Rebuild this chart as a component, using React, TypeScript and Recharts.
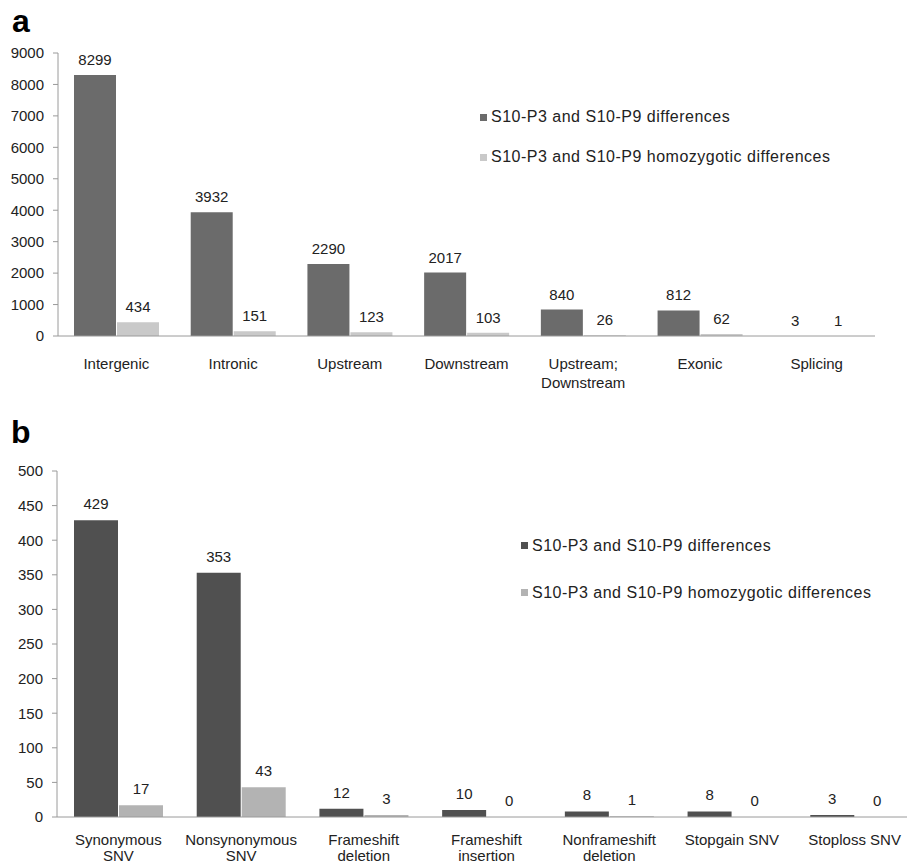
import React from 'react'
import { Bar, BarChart, LabelList, Legend, XAxis, YAxis } from 'recharts'

// panel a: genomic region of the differences
const regionCats = ['Intergenic', 'Intronic', 'Upstream', 'Downstream', 'Upstream;\nDownstream', 'Exonic', 'Splicing']
const regionAll = [8299, 3932, 2290, 2017, 840, 812, 3]
const regionHomo = [434, 151, 123, 103, 26, 62, 1]
const regionTicks = [0, 1000, 2000, 3000, 4000, 5000, 6000, 7000, 8000, 9000]

// panel b: exonic function
const exonicCats = [
  'Synonymous\nSNV',
  'Nonsynonymous\nSNV',
  'Frameshift\ndeletion',
  'Frameshift\ninsertion',
  'Nonframeshift\ndeletion',
  'Stopgain SNV',
  'Stoploss SNV',
]
const exonicAll = [429, 353, 12, 10, 8, 8, 3]
const exonicHomo = [17, 43, 3, 0, 1, 0, 0]
const exonicTicks = [0, 50, 100, 150, 200, 250, 300, 350, 400, 450, 500]

const SERIES_ALL = 'S10-P3 and S10-P9 differences'
const SERIES_HOMO = 'S10-P3 and S10-P9 homozygotic differences'

const FONT = '"Liberation Sans", Arial, sans-serif'
const AXIS = '#9a9a9a'
const TEXT = '#222'

const regionData = regionCats.map((c, i) => ({ cat: c, all: regionAll[i], homo: regionHomo[i] }))
const exonicData = exonicCats.map((c, i) => ({ cat: c, all: exonicAll[i], homo: exonicHomo[i] }))

function multiTick(firstDy: number, lineH: number) {
  return (props: any) => {
    const { x, y, payload } = props
    const lines = String(payload.value).split('\n')
    return (
      <text x={x} y={y} textAnchor="middle" fontSize={15} fill={TEXT} fontFamily={FONT}>
        {lines.map((l, i) => (
          <tspan key={i} x={x} dy={i === 0 ? firstDy : lineH}>
            {l}
          </tspan>
        ))}
      </text>
    )
  }
}

function legendContent(rowH: number) {
  return (props: any) => (
    <div style={{ fontFamily: FONT, fontSize: 16, letterSpacing: 0.5, color: TEXT }}>
      {props.payload.map((e: any) => (
        <div key={e.value} style={{ display: 'flex', alignItems: 'center', height: rowH }}>
          <span style={{ width: 7, height: 7, background: e.color, marginRight: 4 }} />
          <span>{e.value}</span>
        </div>
      ))}
    </div>
  )
}

export default function App() {
  return (
    <div style={{ position: 'absolute', left: 0, top: 0, width: 907, height: 866, overflow: 'hidden', background: '#fff' }}>
      <div style={{ position: 'absolute', left: 0, top: 0 }}>
        <BarChart
          width={907}
          height={400}
          data={regionData}
          margin={{ top: 53, right: 32, left: 0, bottom: 14 }}
          barSize={42}
          barGap={1}
        >
          <XAxis
            dataKey="cat"
            interval={0}
            height={50}
            tickLine={false}
            axisLine={{ stroke: AXIS }}
            tick={multiTick(25, 19)}
          />
          <YAxis
            width={58}
            domain={[0, 9000]}
            ticks={regionTicks}
            tickSize={5}
            tickMargin={9}
            axisLine={{ stroke: AXIS }}
            tickLine={{ stroke: AXIS }}
            tick={{ fontSize: 15, fill: TEXT, fontFamily: FONT }}
          />
          <Legend
            layout="vertical"
            align="center"
            verticalAlign="middle"
            content={legendContent(40)}
            wrapperStyle={{ position: 'absolute', left: 480, top: 97, width: 420 }}
          />
          <Bar dataKey="all" name={SERIES_ALL} fill="#6b6b6b" isAnimationActive={false}>
            <LabelList dataKey="all" position="top" offset={10} fontSize={15} fill={TEXT} fontFamily={FONT} />
          </Bar>
          <Bar dataKey="homo" name={SERIES_HOMO} fill="#c9c9c9" isAnimationActive={false}>
            <LabelList dataKey="homo" position="top" offset={10} fontSize={15} fill={TEXT} fontFamily={FONT} />
          </Bar>
        </BarChart>
      </div>

      <div style={{ position: 'absolute', left: 0, top: 400 }}>
        <BarChart
          width={930}
          height={466}
          data={exonicData}
          margin={{ top: 71, right: 14, left: 0, bottom: 4 }}
          barSize={44}
          barGap={1}
        >
          <XAxis
            dataKey="cat"
            interval={0}
            height={45}
            tickLine={false}
            axisLine={{ stroke: AXIS }}
            tick={multiTick(20, 16)}
          />
          <YAxis
            width={57}
            domain={[0, 500]}
            ticks={exonicTicks}
            tickSize={5}
            tickMargin={9}
            axisLine={{ stroke: AXIS }}
            tickLine={{ stroke: AXIS }}
            tick={{ fontSize: 15, fill: TEXT, fontFamily: FONT }}
          />
          <Legend
            layout="vertical"
            align="center"
            verticalAlign="middle"
            content={legendContent(47)}
            wrapperStyle={{ position: 'absolute', left: 521, top: 122, width: 400 }}
          />
          <Bar dataKey="all" name={SERIES_ALL} fill="#505050" isAnimationActive={false}>
            <LabelList dataKey="all" position="top" offset={11} fontSize={15} fill={TEXT} fontFamily={FONT} />
          </Bar>
          <Bar dataKey="homo" name={SERIES_HOMO} fill="#b3b3b3" minPointSize={0.1} isAnimationActive={false}>
            <LabelList dataKey="homo" position="top" offset={11} fontSize={15} fill={TEXT} fontFamily={FONT} />
          </Bar>
        </BarChart>
      </div>

      <svg width={907} height={866} style={{ position: 'absolute', left: 0, top: 0, pointerEvents: 'none' }}>
        <text x={12} y={32} fontSize={32} fontWeight="bold" fontFamily={FONT} fill="#000">
          a
        </text>
        <text x={11} y={443} fontSize={32} fontWeight="bold" fontFamily={FONT} fill="#000">
          b
        </text>
      </svg>
    </div>
  )
}
